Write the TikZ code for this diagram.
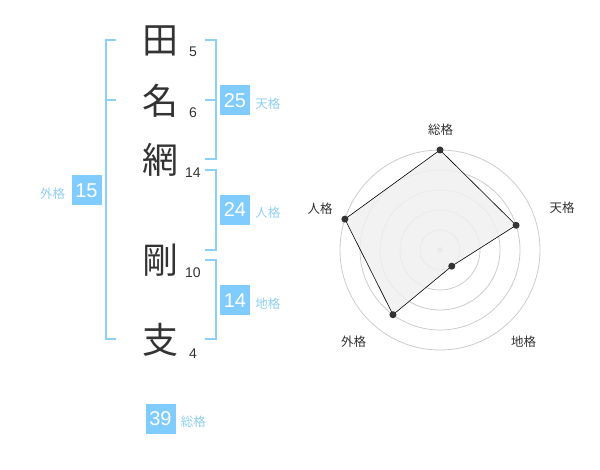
\documentclass[tikz,border=0pt]{standalone}
\usepackage{fontspec}
\setmainfont{Liberation Sans}
\newfontfamily\jpfont{Noto Sans CJK JP}
\usetikzlibrary{positioning}

\definecolor{kakublue}{HTML}{80CCFF}
\definecolor{bracketblue}{HTML}{8CD0F8}
\definecolor{labelblue}{HTML}{8FCFF2}
\definecolor{chartext}{HTML}{333333}
\definecolor{gridgray}{HTML}{CCCCCC}
\definecolor{polyfill}{HTML}{F0F0F0}

\begin{document}
\begin{tikzpicture}[x=1pt, y=-1pt]
    \tikzstyle{every node} = [inner sep=0pt]
    \tikzstyle{kanji} = [font=\jpfont\fontsize{36}{36}\selectfont, text=chartext]
    \tikzstyle{strokes} = [font=\fontsize{14}{14}\selectfont, text=chartext]
    \tikzstyle{kakubox} = [fill=kakublue, text=white, minimum size=30pt,
                           font=\fontsize{20}{20}\selectfont]
    \tikzstyle{kakulabel} = [font=\jpfont\fontsize{12.5}{13}\selectfont, text=labelblue]
    \tikzstyle{bracket} = [draw=bracketblue, line width=2pt]
    \tikzstyle{axislabel} = [font=\jpfont\fontsize{12.5}{13}\selectfont, text=chartext]
    \tikzstyle{dot} = [circle, fill=chartext, minimum size=7pt]

    \useasboundingbox (0,0) rectangle (600,470);

    % name and stroke counts
    \foreach \ch/\y/\s/\sy/\k in {田/40.5/5/52/1, 名/101/6/113/2, 網/160/14/173/3,
                                  剛/260.5/10/273/4, 支/340/4/354/5} {
      \node [kanji] (char\k) at (160, \y) {\ch};
      \node [strokes] (strokes\k) at (193, \sy) {\s};
    }

    % brackets
    \draw [bracket] (116, 40) -- (106, 40) -- (106, 339) -- (116, 339);
    \draw [bracket] (106, 100) -- (116, 100);
    \draw [bracket] (205, 40) -- (216, 40) -- (216, 159) -- (205, 159);
    \draw [bracket] (205, 100) -- (216, 100);
    \draw [bracket] (205, 170) -- (216, 170) -- (216, 250) -- (205, 250);
    \draw [bracket] (205, 260) -- (216, 260) -- (216, 339) -- (205, 339);

    % kaku values
    \node [kakubox] (ten-box) at (235, 100.5) {25};
    \node [kakulabel, right=5pt of ten-box, yshift=-3pt] (ten-label) {天格};
    \node [kakubox] (jin-box) at (235, 210) {24};
    \node [kakulabel, right=5pt of jin-box, yshift=-3pt] (jin-label) {人格};
    \node [kakubox] (chi-box) at (235, 300.5) {14};
    \node [kakulabel, right=5pt of chi-box, yshift=-3pt] (chi-label) {地格};
    \node [kakubox] (gai-box) at (86.5, 190.5) {15};
    \node [kakulabel, left=6pt of gai-box, yshift=-3pt] (gai-label) {外格};
    \node [kakubox] (sou-box) at (160.5, 419) {39};
    \node [kakulabel, right=5pt of sou-box, yshift=-3pt] (sou-label) {総格};

    % radar chart
    \begin{scope}[shift={(440, 250)}, yscale=-1]
      \foreach \r in {20, 40, 60, 80, 100}
        \draw [gridgray, line width=0.8pt] (0, 0) circle (\r pt);
      \node [circle, fill=gridgray, minimum size=6pt] (origin) at (0, 0) {};

      \foreach \a/\r/\n in {90/100/sou, 18/80/ten, -54/20/chi, -126/80/gai, 162/100/jin}
        \coordinate (\n) at (\a:\r);

      \filldraw [fill=polyfill, fill opacity=0.85, draw=black, line width=0.6pt]
        (sou) -- (ten) -- (chi) -- (gai) -- (jin) -- cycle;

      \foreach \n in {sou, ten, chi, gai, jin}
        \node [dot] (\n-dot) at (\n) {};
    \end{scope}

    \node [axislabel] (sou-axis) at (440.5, 130) {総格};
    \node [axislabel] (ten-axis) at (562, 208) {天格};
    \node [axislabel] (chi-axis) at (523.5, 342) {地格};
    \node [axislabel] (gai-axis) at (353.5, 342) {外格};
    \node [axislabel] (jin-axis) at (320, 209) {人格};
\end{tikzpicture}
\end{document}
